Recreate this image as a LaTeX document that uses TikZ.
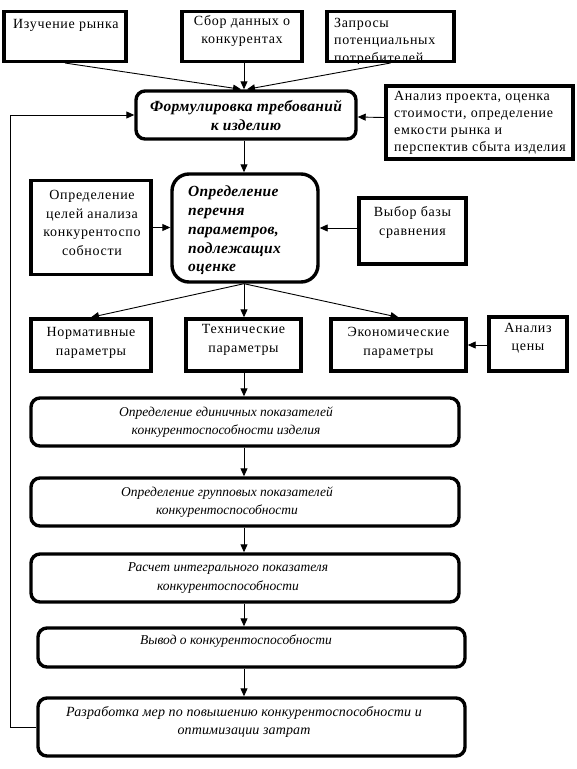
\documentclass[tikz,border=0pt]{standalone}
\usepackage{fontspec}
\setmainfont{Liberation Serif}[LetterSpace=5]
\usetikzlibrary{arrows.meta}
\begin{document}
\begin{tikzpicture}[x=1pt,y=-1pt,
  box/.style={draw, line width=3.4pt, inner sep=0pt},
  rbox/.style={box, rounded corners=9pt},
  arr/.style={line width=0.9pt, -{Triangle[length=8pt,width=7pt]}},
  txt/.style={inner sep=0pt, font=\fontsize{14}{18.5}\selectfont, align=center},
  ltxt/.style={txt, align=left},
  bi/.style={inner sep=0pt, font=\fontsize{15.5}{18.7}\selectfont\bfseries\itshape\addfontfeature{LetterSpace=2}, align=center},
  it/.style={inner sep=0pt, font=\fontsize{13.5}{18.5}\selectfont\itshape\addfontfeature{LetterSpace=0}, align=center}]
\useasboundingbox (0,0) rectangle (577,769);
\fill[white] (0,0) rectangle (577,769);

% top row
\node[box, minimum width=122pt, minimum height=49.6pt] (rynok) at (65,36.5) {};
\node[ltxt, anchor=base west] (rynok-t) at (13,28) {Изучение рынка};
\node[box, minimum width=120pt, minimum height=49.6pt] (sbor) at (242,36.5) {};
\node[txt] (sbor-t) at (242,31) {Сбор данных о\\конкурентах};
\begin{scope}
\clip (326,10) rectangle (455,63);
\node[ltxt, anchor=north west, font=\fontsize{14}{17.5}\selectfont] (zapros-t) at (334,18) {Запросы\\потенциальных\\потребителей};
\end{scope}
\node[box, minimum width=127pt, minimum height=49.6pt] (zapros) at (390.5,36.5) {};

% formulation
\node[rbox, minimum width=220pt, minimum height=48pt] (formul) at (246,115) {};
\node[bi] (formul-t) at (246,115.5) {Формулировка требований\\к изделию};
\node[box, minimum width=187pt, minimum height=73pt] (analiz) at (479.5,122.5) {};
\node[ltxt, anchor=west, font=\fontsize{14}{17}\selectfont] (analiz-t) at (394,122.5) {Анализ проекта, оценка\\стоимости, определение\\емкости рынка и\\перспектив сбыта изделия};

% second row
\node[box, minimum width=120pt, minimum height=94pt] (celey) at (91,227.5) {};
\node[txt] (celey-t) at (92,223) {Определение\\целей анализа\\конкурентоспо\\собности};
\node[box, rounded corners=17pt, minimum width=146pt, minimum height=108pt] (perech) at (245,228) {};
\node[bi, align=left, anchor=west] (perech-t) at (188,230.5) {Определение\\перечня\\параметров,\\подлежащих\\оценке};
\node[box, minimum width=107pt, minimum height=66pt] (vybor) at (412.5,231) {};
\node[txt] (vybor-t) at (412.5,222.5) {Выбор базы\\сравнения};

% parameters row
\node[box, minimum width=120pt, minimum height=52pt] (norm) at (91,345) {};
\node[txt] (norm-t) at (91,343) {Нормативные\\параметры};
\node[box, minimum width=115pt, minimum height=52pt] (tech) at (243.5,345) {};
\node[txt] (tech-t) at (243.5,340) {Технические\\параметры};
\node[box, minimum width=135pt, minimum height=52pt] (econ) at (398.5,345) {};
\node[txt] (econ-t) at (398.5,343) {Экономические\\параметры};
\node[box, minimum width=78pt, minimum height=54pt] (cena) at (528,344) {};
\node[txt] (cena-t) at (528,338) {Анализ\\цены};

% lower chain
\node[rbox, minimum width=428pt, minimum height=48pt] (ed) at (245,422) {};
\node[it] (ed-t) at (226,422) {Определение единичных показателей\\конкурентоспособности изделия};
\node[rbox, minimum width=428pt, minimum height=48pt] (grup) at (245,502) {};
\node[it] (grup-t) at (227,502) {Определение групповых показателей\\конкурентоспособности};
\node[rbox, minimum width=428pt, minimum height=48pt] (integ) at (245,578) {};
\node[it] (integ-t) at (228,578) {Расчет интегрального показателя\\конкурентоспособности};
\node[rbox, minimum width=427pt, minimum height=39pt] (vyvod) at (251.5,647.5) {};
\node[it] (vyvod-t) at (236,641) {Вывод о конкурентоспособности};
\node[rbox, minimum width=427pt, minimum height=58pt] (razr) at (251.5,727) {};
\node[it, font=\fontsize{14}{18.5}\selectfont\itshape\addfontfeature{LetterSpace=1}] (razr-t) at (244,722) {Разработка мер по повышению конкурентоспособности и\\оптимизации затрат};

\coordinate (spine) at (244,0);
\coordinate (loopx) at (10,0);

% connectors
\draw[arr] (rynok.south) -- ([xshift=-3pt]formul.north -| spine);
\draw[arr] (sbor.south -| spine) -- (formul.north -| spine);
\draw[arr] (zapros.south) -- ([xshift=3pt]formul.north -| spine);
\draw[arr] ([yshift=5pt]analiz.west) -- ([yshift=-2pt]formul.east);
\draw[arr] (razr.west) -- (razr.west -| loopx) -- (formul.west -| loopx) -- (formul.west);
\draw[arr] (formul.south -| spine) -- (perech.north -| spine);
\draw[arr] (celey.east) -- (celey.east -| perech.west);
\draw[arr] (vybor.west |- perech.east) -- (perech.east);
\draw[arr] (perech.south -| spine) -- (norm.north);
\draw[arr] (perech.south -| spine) -- (tech.north -| spine);
\draw[arr] (perech.south -| spine) -- (econ.north);
\draw[arr] (cena.west |- econ.east) -- (econ.east);
\draw[arr] (tech.south -| spine) -- (ed.north -| spine);
\draw[arr] (ed.south -| spine) -- (grup.north -| spine);
\draw[arr] (grup.south -| spine) -- (integ.north -| spine);
\draw[arr] (integ.south -| spine) -- (vyvod.north -| spine);
\draw[arr] (vyvod.south -| spine) -- (razr.north -| spine);
\end{tikzpicture}
\end{document}
